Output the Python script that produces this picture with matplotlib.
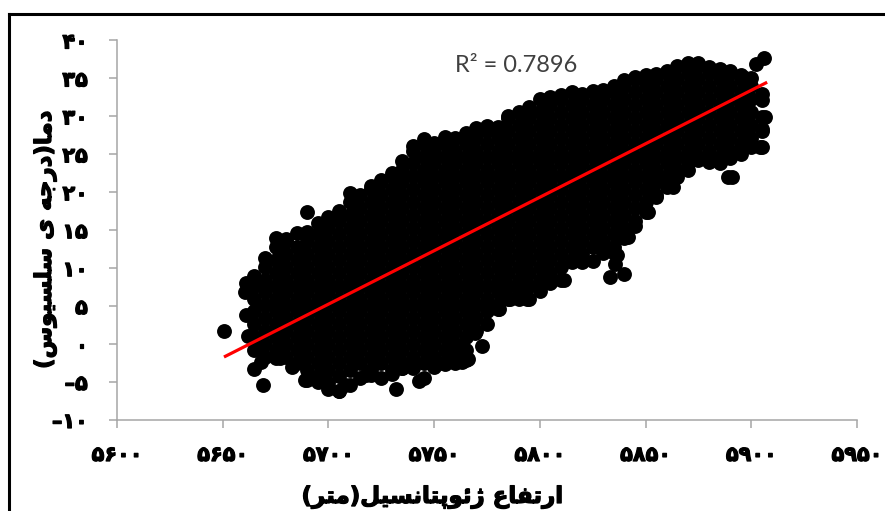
import matplotlib
matplotlib.use("Agg")
import matplotlib.pyplot as plt
import matplotlib.patheffects as pe
from matplotlib.lines import Line2D

# column positions of the dense cloud (metres)
heights = [5665, 5670, 5675, 5680, 5685, 5690, 5695, 5700, 5705, 5710, 5715, 5720, 5725,
           5730, 5735, 5740, 5745, 5750, 5755, 5760, 5765, 5770, 5775, 5780, 5785, 5790,
           5795, 5800, 5805, 5810, 5815, 5820, 5825, 5830, 5835, 5840, 5845, 5850, 5855,
           5860, 5865, 5870, 5875, 5880, 5885, 5890, 5895, 5900, 5905]

# temperatures read per column, inner part of the cloud is solid black so these are estimates
temps = [
    [-0.8, 0.9, 2.6, 4.3, 6.0, 7.7, 9.0],
    [-1.7, 0, 1.7, 3.4, 5.1, 6.8, 8.5, 10.2, 11.4],
    [-1.8, -0.8, 0.9, 2.6, 4.3, 6.0, 7.7, 9.4, 11.1, 12.8, 14.0],
    [-1.7, 0, 1.7, 3.4, 5.1, 6.8, 8.5, 10.2, 11.9, 13.6, 13.8],
    [-2.5, -0.8, 0.9, 2.6, 4.3, 6.0, 7.7, 9.4, 11.1, 12.8, 14.6],
    [-4.7, -3.4, -1.7, 0, 1.7, 3.4, 5.1, 6.8, 8.5, 10.2, 11.9, 13.6, 14.8],
    [-5.0, -4.2, -2.5, -0.8, 0.9, 2.6, 4.3, 6.0, 7.7, 9.4, 11.1, 12.8, 14.5, 16.0],
    [-5.1, -3.4, -1.7, 0, 1.7, 3.4, 5.1, 6.8, 8.5, 10.2, 11.9, 13.6, 15.3, 16.7],
    [-6.2, -4.2, -2.5, -0.8, 0.9, 2.6, 4.3, 6.0, 7.7, 9.4, 11.1, 12.8, 14.5, 16.2, 17.5],
    [-5.4, -3.4, -1.7, 0, 1.7, 3.4, 5.1, 6.8, 8.5, 10.2, 11.9, 13.6, 15.3, 17.0, 18.7, 19.9],
    [-4.5, -2.5, -0.8, 0.9, 2.6, 4.3, 6.0, 7.7, 9.4, 11.1, 12.8, 14.5, 16.2, 17.9, 19.6],
    [-4.1, -3.4, -1.7, 0, 1.7, 3.4, 5.1, 6.8, 8.5, 10.2, 11.9, 13.6, 15.3, 17.0, 18.7, 20.4, 20.8],
    [-4.5, -2.5, -0.8, 0.9, 2.6, 4.3, 6.0, 7.7, 9.4, 11.1, 12.8, 14.5, 16.2, 17.9, 19.6, 21.3, 21.6],
    [-4.0, -3.4, -1.7, 0, 1.7, 3.4, 5.1, 6.8, 8.5, 10.2, 11.9, 13.6, 15.3, 17.0, 18.7, 20.4, 22.1, 22.5],
    [-3.2, -2.5, -0.8, 0.9, 2.6, 4.3, 6.0, 7.7, 9.4, 11.1, 12.8, 14.5, 16.2, 17.9, 19.6, 21.3, 23.0, 24.1],
    [-3.2, -1.7, 0, 1.7, 3.4, 5.1, 6.8, 8.5, 10.2, 11.9, 13.6, 15.3, 17.0, 18.7, 20.4, 22.1, 23.8, 25.5, 26.1],
    [-4.5, -2.5, -0.8, 0.9, 2.6, 4.3, 6.0, 7.7, 9.4, 11.1, 12.8, 14.5, 16.2, 17.9, 19.6, 21.3, 23.0, 24.7, 26.4, 27.0],
    [-3.0, -1.7, 0, 1.7, 3.4, 5.1, 6.8, 8.5, 10.2, 11.9, 13.6, 15.3, 17.0, 18.7, 20.4, 22.1, 23.8, 25.5, 26.5],
    [-2.6, -2.5, -0.8, 0.9, 2.6, 4.3, 6.0, 7.7, 9.4, 11.1, 12.8, 14.5, 16.2, 17.9, 19.6, 21.3, 23.0, 24.7, 26.4, 27.3],
    [-2.5, -1.7, 0, 1.7, 3.4, 5.1, 6.8, 8.5, 10.2, 11.9, 13.6, 15.3, 17.0, 18.7, 20.4, 22.1, 23.8, 25.5, 27.2],
    [-2.1, -0.8, 0.9, 2.6, 4.3, 6.0, 7.7, 9.4, 11.1, 12.8, 14.5, 16.2, 17.9, 19.6, 21.3, 23.0, 24.7, 26.4, 27.8],
    [1.7, 3.4, 5.1, 6.8, 8.5, 10.2, 11.9, 13.6, 15.3, 17.0, 18.7, 20.4, 22.1, 23.8, 25.5, 27.2, 28.5],
    [2.7, 4.3, 6.0, 7.7, 9.4, 11.1, 12.8, 14.5, 16.2, 17.9, 19.6, 21.3, 23.0, 24.7, 26.4, 28.1, 28.7],
    [4.6, 5.1, 6.8, 8.5, 10.2, 11.9, 13.6, 15.3, 17.0, 18.7, 20.4, 22.1, 23.8, 25.5, 27.2, 28.6],
    [6.0, 7.7, 9.4, 11.1, 12.8, 14.5, 16.2, 17.9, 19.6, 21.3, 23.0, 24.7, 26.4, 28.1, 29.8, 30.0],
    [6.0, 6.8, 8.5, 10.2, 11.9, 13.6, 15.3, 17.0, 18.7, 20.4, 22.1, 23.8, 25.5, 27.2, 28.9, 30.6],
    [6.0, 7.7, 9.4, 11.1, 12.8, 14.5, 16.2, 17.9, 19.6, 21.3, 23.0, 24.7, 26.4, 28.1, 29.8, 31.2],
    [7.0, 8.5, 10.2, 11.9, 13.6, 15.3, 17.0, 18.7, 20.4, 22.1, 23.8, 25.5, 27.2, 28.9, 30.6, 32.3],
    [8.0, 9.4, 11.1, 12.8, 14.5, 16.2, 17.9, 19.6, 21.3, 23.0, 24.7, 26.4, 28.1, 29.8, 31.5, 32.5],
    [8.4, 10.2, 11.9, 13.6, 15.3, 17.0, 18.7, 20.4, 22.1, 23.8, 25.5, 27.2, 28.9, 30.6, 32.3, 32.8],
    [10.8, 11.1, 12.8, 14.5, 16.2, 17.9, 19.6, 21.3, 23.0, 24.7, 26.4, 28.1, 29.8, 31.5, 33.2],
    [10.8, 11.9, 13.6, 15.3, 17.0, 18.7, 20.4, 22.1, 23.8, 25.5, 27.2, 28.9, 30.6, 32.3, 33.0],
    [11.0, 12.8, 14.5, 16.2, 17.9, 19.6, 21.3, 23.0, 24.7, 26.4, 28.1, 29.8, 31.5, 33.2, 33.3],
    [12.0, 13.6, 15.3, 17.0, 18.7, 20.4, 22.1, 23.8, 25.5, 27.2, 28.9, 30.6, 32.3, 33.5],
    [12.0, 12.8, 14.5, 16.2, 17.9, 19.6, 21.3, 23.0, 24.7, 26.4, 28.1, 29.8, 31.5, 33.2, 34.0],
    [14.0, 15.3, 17.0, 18.7, 20.4, 22.1, 23.8, 25.5, 27.2, 28.9, 30.6, 32.3, 34.0, 34.8],
    [15.5, 16.2, 17.9, 19.6, 21.3, 23.0, 24.7, 26.4, 28.1, 29.8, 31.5, 33.2, 34.9, 35.2],
    [17.4, 18.7, 20.4, 22.1, 23.8, 25.5, 27.2, 28.9, 30.6, 32.3, 34.0, 35.4],
    [19.4, 19.6, 21.3, 23.0, 24.7, 26.4, 28.1, 29.8, 31.5, 33.2, 34.9, 35.6],
    [20.7, 22.1, 23.8, 25.5, 27.2, 28.9, 30.6, 32.3, 34.0, 35.7, 36.0],
    [22.0, 23.0, 24.7, 26.4, 28.1, 29.8, 31.5, 33.2, 34.9, 36.6],
    [23.0, 23.8, 25.5, 27.2, 28.9, 30.6, 32.3, 34.0, 35.7, 37.0],
    [24.2, 24.7, 26.4, 28.1, 29.8, 31.5, 33.2, 34.9, 36.6, 37.0],
    [24.0, 25.5, 27.2, 28.9, 30.6, 32.3, 34.0, 35.7, 36.5],
    [24.0, 24.7, 26.4, 28.1, 29.8, 31.5, 33.2, 34.9, 36.2],
    [24.5, 25.5, 27.2, 28.9, 30.6, 32.3, 34.0, 35.7, 36.0],
    [25.0, 26.4, 28.1, 29.8, 31.5, 33.2, 34.9, 35.5],
    [26.0, 27.2, 28.9, 30.6, 32.3, 34.0, 35.0],
    [26.0, 28.1, 28.4, 29.9, 32.2, 33.0],
]

# points that stand apart on the edge of the cloud
edge_x = [5650.6, 5660.5, 5661, 5661, 5662, 5665, 5668, 5669, 5668, 5677, 5683, 5689, 5690,
          5700, 5705, 5708, 5718, 5732, 5735, 5743, 5754, 5763, 5766, 5762, 5772.6, 5769.5,
          5780.7, 5786, 5794, 5811.6, 5833, 5835.6, 5840, 5836.5, 5841.7, 5851, 5863, 5885,
          5889, 5891, 5904, 5906.5, 5906, 5902, 5897]
edge_y = [1.7, 6.8, 8.0, 3.8, 1.1, -3.3, -2.4, -5.4, -0.6, -1.8, -3.0, -4.7, 17.4,
          -5.9, -6.2, -5.4, -4.1, -5.9, -3.2, -4.8, -2.5, -2.4, -2.0, -0.6, -0.2, 1.4,
          4.6, 6.0, 6.0, 8.4, 8.9, 10.6, 9.3, 11.7, 14.1, 17.4, 20.7, 23.8,
          22.0, 22.0, 26.0, 29.9, 37.7, 36.9, 35.0]

trend_x = [5650.6, 5907.5]
trend_y = [-1.7, 34.5]

x_ticks = [5600, 5650, 5700, 5750, 5800, 5850, 5900, 5950]
x_labels = ["۵۶۰۰", "۵۶۵۰", "۵۷۰۰", "۵۷۵۰", "۵۸۰۰", "۵۸۵۰", "۵۹۰۰", "۵۹۵۰"]
y_ticks = [-10, -5, 0, 5, 10, 15, 20, 25, 30, 35, 40]
y_labels = ["–۱۰", "–۵", "۰", "۵", "۱۰", "۱۵", "۲۰", "۲۵", "۳۰", "۳۵", "۴۰"]

x_title = "ارتفاع ژئوپتانسیل(متر)"
y_title = "دما(درجه ی سلسیوس)"
r2_text = "R² = 0.7896"

# isolated, final, initial, medial
FORMS = {
    "ا": "\uFE8D\uFE8E", "ر": "\uFEAD\uFEAE", "د": "\uFEA9\uFEAA", "ژ": "\uFB8A\uFB8B", "و": "\uFEED\uFEEE",
    "ت": "\uFE95\uFE96\uFE97\uFE98", "ف": "\uFED1\uFED2\uFED3\uFED4", "ع": "\uFEC9\uFECA\uFECB\uFECC",
    "ئ": "\uFE89\uFE8A\uFE8B\uFE8C", "پ": "\uFB56\uFB57\uFB58\uFB59", "ن": "\uFEE5\uFEE6\uFEE7\uFEE8",
    "س": "\uFEB1\uFEB2\uFEB3\uFEB4", "ی": "\uFBFC\uFBFD\uFBFE\uFBFF", "ل": "\uFEDD\uFEDE\uFEDF\uFEE0",
    "م": "\uFEE1\uFEE2\uFEE3\uFEE4", "ج": "\uFE9D\uFE9E\uFE9F\uFEA0", "ه": "\uFEE9\uFEEA\uFEEB\uFEEC",
}
MIRROR = {"(": ")", ")": "("}


def persian(text):
    # matplotlib does no shaping, so pick the joined forms and lay them out right to left
    out = []
    for i, ch in enumerate(text):
        if ch not in FORMS:
            out.append(MIRROR.get(ch, ch))
            continue
        prev = text[i - 1] if i > 0 else ""
        nxt = text[i + 1] if i < len(text) - 1 else ""
        joins_prev = prev in FORMS and len(FORMS[prev]) == 4
        joins_next = nxt in FORMS and len(FORMS[ch]) == 4
        if joins_prev and joins_next:
            out.append(FORMS[ch][3])
        elif joins_prev:
            out.append(FORMS[ch][1])
        elif joins_next:
            out.append(FORMS[ch][2])
        else:
            out.append(FORMS[ch][0])
    return "".join(reversed(out))


W, H = 885, 511
fig = plt.figure(figsize=(W / 100, H / 100), dpi=100)
ax = fig.add_axes([117 / W, 1 - 420 / H, 740 / W, 379.5 / H])

for x, ys in zip(heights, temps):
    ax.scatter([x] * len(ys), ys, s=115, color="black", linewidths=0, clip_on=False, zorder=3)
ax.scatter(edge_x, edge_y, s=115, color="black", linewidths=0, clip_on=False, zorder=3)
ax.plot(trend_x, trend_y, color="#ff0000", lw=2.3, solid_capstyle="butt", zorder=4)

heavy = [pe.withStroke(linewidth=0.9, foreground="black")]

ax.set_xlim(5600, 5950)
ax.set_ylim(-10, 40)
ax.set_xticks(x_ticks)
ax.set_xticklabels(x_labels, fontsize=15, fontweight="bold", family="DejaVu Sans", path_effects=heavy)
ax.set_yticks(y_ticks)
ax.set_yticklabels(y_labels, fontsize=15, fontweight="bold", family="DejaVu Sans", path_effects=heavy)
ax.tick_params(axis="x", length=6, width=1.1, color="#a6a6a6", pad=12)
ax.tick_params(axis="y", length=6, width=1.1, color="#a6a6a6", pad=15)
for side in ["top", "right"]:
    ax.spines[side].set_visible(False)
for side in ["left", "bottom"]:
    ax.spines[side].set_color("#a6a6a6")
    ax.spines[side].set_linewidth(1.1)

ax.text(455 / W, 1 - 72 / H, r2_text, transform=fig.transFigure, fontsize=17,
        family="Lato", color="#404040", va="baseline", ha="left")
fig.text(432 / W, 1 - 497 / H, persian(x_title), fontsize=16.5, fontweight="bold",
         family="DejaVu Sans", ha="center", va="center", path_effects=heavy)
fig.text(45 / W, 1 - 240 / H, persian(y_title), fontsize=16.5, fontweight="bold",
         family="DejaVu Sans", ha="center", va="center", rotation=90, path_effects=heavy)

# the black frame runs off the right and bottom of the crop
fig.add_artist(Line2D([9 / W, 9 / W], [0, 1 - 14 / H], color="black", lw=2.2, solid_capstyle="projecting"))
fig.add_artist(Line2D([9 / W, 1], [1 - 14 / H, 1 - 14 / H], color="black", lw=2.2, solid_capstyle="projecting"))

fig.savefig("out.png", dpi=100)
